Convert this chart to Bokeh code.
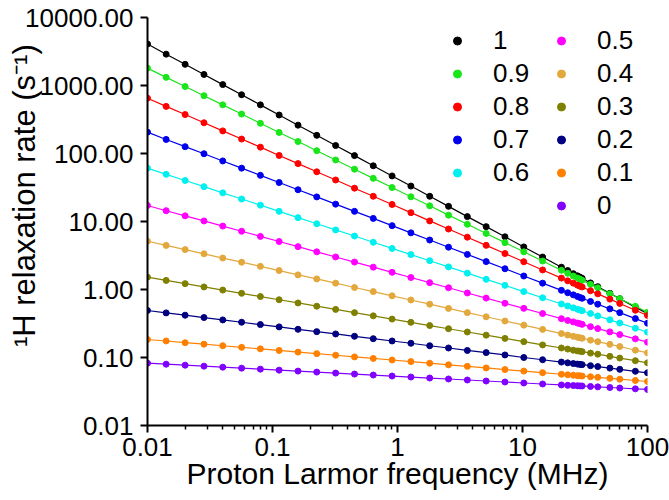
from bokeh.plotting import figure
from bokeh.models import (FixedTicker, PrintfTickFormatter, CustomJSTickFormatter,
                          Legend, LegendItem)
from bokeh.embed import file_html
from bokeh.resources import INLINE

# Proton Larmor frequency (MHz)
freq = [0.01, 0.0141, 0.02, 0.0283, 0.04, 0.0566, 0.08, 0.113, 0.16, 0.226,
        0.32, 0.453, 0.64, 0.905, 1.28, 1.81, 2.56, 3.62, 5.12, 7.24,
        10.24, 14.48, 20.48, 23, 25.5, 27.5, 28.8, 30, 35, 40,
        50, 60, 80, 100]

# 1H relaxation rate (s^-1) for each parameter value
r_1 = [4074, 2889, 2049, 1453, 1031, 731, 519, 368, 261, 185,
       131, 93.1, 66.0, 46.8, 33.2, 23.5, 16.7, 11.8, 8.40, 5.96,
       4.23, 3.00, 2.13, 1.90, 1.71, 1.59, 1.52, 1.46, 1.25, 1.10,
       0.878, 0.733, 0.551, 0.442]
r_09 = [1799, 1318, 966, 708, 519, 380, 278, 204, 150, 110,
        80.3, 58.8, 43.1, 31.6, 23.1, 17.0, 12.4, 9.10, 6.67, 4.89,
        3.58, 2.62, 1.92, 1.73, 1.58, 1.48, 1.42, 1.37, 1.19, 1.06,
        0.864, 0.733, 0.566, 0.463]
r_08 = [650, 493, 374, 283, 215, 163, 124, 93.6, 71.0, 53.8,
        40.8, 30.9, 23.5, 17.8, 13.5, 10.2, 7.75, 5.88, 4.46, 3.38,
        2.56, 1.94, 1.47, 1.34, 1.24, 1.16, 1.12, 1.09, 0.960, 0.863,
        0.722, 0.624, 0.496, 0.415]
r_07 = [206, 161, 126, 99.1, 77.7, 60.9, 47.7, 37.4, 29.3, 23.0,
        18.0, 14.1, 11.1, 8.69, 6.81, 5.34, 4.19, 3.28, 2.57, 2.02,
        1.58, 1.24, 0.972, 0.896, 0.834, 0.790, 0.765, 0.743, 0.667, 0.608,
        0.519, 0.457, 0.373, 0.319]
r_06 = [60.8, 49.4, 40.1, 32.5, 26.4, 21.4, 17.4, 14.1, 11.4, 9.27,
        7.52, 6.11, 4.95, 4.02, 3.26, 2.65, 2.15, 1.74, 1.41, 1.15,
        0.931, 0.755, 0.613, 0.571, 0.537, 0.513, 0.499, 0.487, 0.444, 0.409,
        0.358, 0.321, 0.269, 0.236]
r_05 = [17.2, 14.4, 12.1, 10.2, 8.56, 7.19, 6.04, 5.08, 4.27, 3.58,
        3.01, 2.53, 2.13, 1.79, 1.50, 1.26, 1.06, 0.889, 0.747, 0.628,
        0.528, 0.443, 0.372, 0.351, 0.334, 0.321, 0.314, 0.307, 0.284, 0.266,
        0.238, 0.217, 0.188, 0.168]
r_04 = [5.13, 4.45, 3.86, 3.35, 2.90, 2.52, 2.19, 1.90, 1.64, 1.43,
        1.24, 1.07, 0.931, 0.808, 0.701, 0.608, 0.527, 0.457, 0.397, 0.344,
        0.299, 0.259, 0.225, 0.214, 0.205, 0.199, 0.195, 0.192, 0.180, 0.171,
        0.156, 0.145, 0.128, 0.117]
r_03 = [1.52, 1.36, 1.22, 1.09, 0.981, 0.879, 0.788, 0.707, 0.634, 0.568,
        0.510, 0.457, 0.410, 0.367, 0.329, 0.295, 0.265, 0.237, 0.213, 0.191,
        0.171, 0.153, 0.138, 0.133, 0.128, 0.125, 0.124, 0.122, 0.116, 0.112,
        0.104, 0.0981, 0.0897, 0.0836]
r_02 = [0.491, 0.453, 0.419, 0.387, 0.357, 0.330, 0.305, 0.282, 0.260, 0.240,
        0.222, 0.205, 0.189, 0.175, 0.162, 0.149, 0.138, 0.127, 0.118, 0.109,
        0.100, 0.0927, 0.0856, 0.0834, 0.0814, 0.0800, 0.0792, 0.0785, 0.0758, 0.0735,
        0.0698, 0.0669, 0.0627, 0.0596]
r_01 = [0.184, 0.175, 0.165, 0.157, 0.149, 0.141, 0.134, 0.127, 0.120, 0.114,
        0.108, 0.102, 0.0968, 0.0918, 0.0870, 0.0824, 0.0781, 0.0741, 0.0702, 0.0665,
        0.0631, 0.0598, 0.0567, 0.0557, 0.0548, 0.0541, 0.0538, 0.0534, 0.0522, 0.0511,
        0.0494, 0.0480, 0.0459, 0.0444]
r_00 = [0.0824, 0.0797, 0.0771, 0.0746, 0.0721, 0.0697, 0.0674, 0.0652, 0.0631, 0.0610,
        0.0590, 0.0571, 0.0552, 0.0534, 0.0516, 0.0499, 0.0483, 0.0467, 0.0451, 0.0436,
        0.0422, 0.0408, 0.0395, 0.0390, 0.0387, 0.0384, 0.0382, 0.0381, 0.0375, 0.0370,
        0.0362, 0.0356, 0.0346, 0.0339]

labels = ["1", "0.9", "0.8", "0.7", "0.6", "0.5", "0.4", "0.3", "0.2", "0.1", "0"]
values = [r_1, r_09, r_08, r_07, r_06, r_05, r_04, r_03, r_02, r_01, r_00]
colors = ["#000000", "#19e619", "#ff0000", "#0000ee", "#00f0f0", "#ff00ff",
          "#e3a83c", "#808000", "#000080", "#ff8000", "#8000ff"]

x_ticks = [0.01, 0.1, 1, 10, 100]
y_ticks = [0.01, 0.1, 1, 10, 100, 1000, 10000]

FONT = "Liberation Sans"

p = figure(width=669, height=500, x_axis_type="log", y_axis_type="log",
           x_range=(0.01, 100), y_range=(0.01, 10000),
           output_backend="svg", toolbar_location=None,
           min_border_left=147, min_border_right=22,
           min_border_top=17, min_border_bottom=75)
p.outline_line_color = None
p.grid.visible = False
p.background_fill_color = "white"
p.border_fill_color = "white"

items = []
for name, vals, col in zip(labels, values, colors):
    p.line(freq, vals, line_color=col, line_width=1.2)
    r = p.scatter(freq, vals, size=6, fill_color=col, line_color=col)
    items.append(LegendItem(label=name, renderers=[r]))

# axes
minor = [m * 10.0 ** e for e in range(-2, 2) for m in range(2, 10)]
p.xaxis.ticker = FixedTicker(ticks=x_ticks, minor_ticks=minor)
p.xaxis.formatter = CustomJSTickFormatter(
    code="return tick >= 1 ? tick.toFixed(0) : tick.toPrecision(1);")
p.yaxis.ticker = FixedTicker(ticks=y_ticks, minor_ticks=[])
p.yaxis.formatter = PrintfTickFormatter(format="%.2f")

for ax in (p.xaxis, p.yaxis):
    ax.axis_line_width = 2
    ax.axis_line_color = "black"
    ax.major_tick_line_width = 2
    ax.major_tick_line_color = "black"
    ax.minor_tick_line_width = 1.5
    ax.minor_tick_line_color = "black"
    ax.major_tick_out = 7
    ax.major_tick_in = 0
    ax.minor_tick_out = 4
    ax.minor_tick_in = 0
    ax.major_label_text_font = FONT
    ax.major_label_text_font_size = "26px"
    ax.major_label_text_color = "black"
    ax.axis_label_text_font = FONT
    ax.axis_label_text_font_style = "normal"
    ax.axis_label_text_color = "black"
p.xaxis.major_label_standoff = 5
p.yaxis.major_label_standoff = 7

p.xaxis.axis_label = "Proton Larmor frequency (MHz)"
p.xaxis.axis_label_text_font_size = "30px"
p.xaxis.axis_label_standoff = -2
# non-breaking spaces at the start lift the title a little above the frame centre
p.yaxis.axis_label = "\u00a0" * 6 + "\u00b9H relaxation rate (s\u207b\u00b9)"
p.yaxis.axis_label_text_font_size = "31px"
p.yaxis.axis_label_standoff = -20

# two-column legend
def make_legend(its, loc):
    return Legend(items=its, location=loc, orientation="vertical",
                  glyph_width=20, glyph_height=33, label_height=33,
                  label_standoff=26, spacing=0, padding=0, margin=0,
                  border_line_alpha=0, background_fill_alpha=0,
                  label_text_font=FONT, label_text_font_size="26px",
                  label_text_color="black")

p.add_layout(make_legend(items[:5], (300, 236.5)))
p.add_layout(make_legend(items[5:], (404, 203.5)))

open("out.html", "w").write(file_html(p, INLINE))
